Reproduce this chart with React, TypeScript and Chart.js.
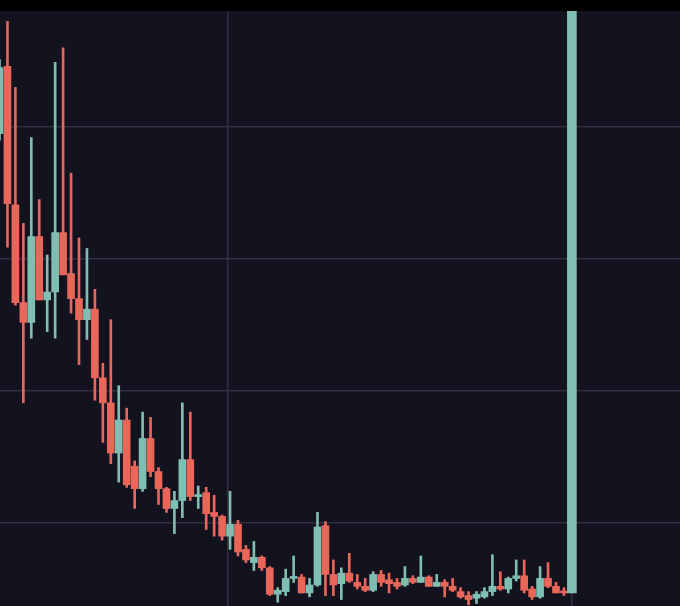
import { useEffect, useRef } from "react";
import { Chart, registerables } from "chart.js";

Chart.register(...registerables);

// OHLC values per candle
const opens = [
  3.95, 4.46, 3.41, 2.67, 2.52, 3.17, 2.69, 2.75, 3.2, 2.89,
  2.7, 2.54, 2.62, 2.1, 1.91, 1.53, 1.78, 1.43, 1.26, 1.64,
  1.39, 1.26, 1.11, 1.17, 1.48, 1.2, 1.23, 1.08, 1.05, 0.9,
  0.99, 0.8, 0.7, 0.74, 0.66, 0.46, 0.48, 0.58, 0.59, 0.47,
  0.53, 0.98, 0.61, 0.54, 0.62, 0.55, 0.52, 0.49, 0.61, 0.57,
  0.55, 0.53, 0.58, 0.55, 0.59, 0.52, 0.55, 0.52, 0.48, 0.45,
  0.43, 0.44, 0.48, 0.52, 0.5, 0.58, 0.6, 0.5, 0.44, 0.58,
  0.52, 0.48, 0.47,
];
const highs = [
  4.51, 4.8, 4.3, 3.27, 3.92, 3.45, 3.03, 4.49, 4.6, 3.65,
  3.16, 3.08, 2.77, 2.21, 2.54, 2.04, 1.87, 1.47, 1.84, 1.8,
  1.42, 1.27, 1.24, 1.91, 1.84, 1.28, 1.27, 1.21, 1.06, 1.24,
  1.02, 0.83, 0.86, 0.75, 0.67, 0.51, 0.65, 0.75, 0.61, 0.58,
  1.08, 1.01, 0.72, 0.66, 0.77, 0.61, 0.58, 0.63, 0.64, 0.62,
  0.58, 0.67, 0.6, 0.75, 0.6, 0.61, 0.57, 0.58, 0.51, 0.48,
  0.48, 0.51, 0.76, 0.63, 0.59, 0.72, 0.72, 0.52, 0.67, 0.7,
  0.55, 0.51, 5.6,
];
const lows = [
  3.9, 3.09, 2.65, 1.91, 2.4, 2.69, 2.45, 2.4, 2.88, 2.59,
  2.2, 2.39, 1.93, 1.61, 1.45, 1.31, 1.27, 1.11, 1.24, 1.35,
  1.14, 1.08, 0.92, 1.04, 1.17, 1.11, 0.95, 0.9, 0.87, 0.8,
  0.75, 0.7, 0.64, 0.64, 0.45, 0.4, 0.45, 0.55, 0.47, 0.44,
  0.52, 0.45, 0.45, 0.42, 0.55, 0.5, 0.48, 0.48, 0.52, 0.47,
  0.5, 0.52, 0.54, 0.55, 0.52, 0.52, 0.44, 0.48, 0.43, 0.38,
  0.39, 0.43, 0.45, 0.49, 0.47, 0.56, 0.47, 0.42, 0.43, 0.51,
  0.47, 0.45, 0.47,
];
const closes = [
  4.45, 3.42, 2.67, 2.52, 3.17, 2.69, 2.75, 3.2, 2.88, 2.7,
  2.54, 2.62, 2.1, 1.91, 1.53, 1.78, 1.29, 1.26, 1.64, 1.39,
  1.26, 1.11, 1.17, 1.48, 1.2, 1.21, 1.07, 1.05, 0.9, 0.99,
  0.78, 0.72, 0.74, 0.66, 0.46, 0.49, 0.58, 0.59, 0.47, 0.53,
  0.97, 0.61, 0.53, 0.62, 0.56, 0.52, 0.49, 0.61, 0.55, 0.54,
  0.52, 0.58, 0.55, 0.59, 0.52, 0.55, 0.52, 0.49, 0.44, 0.42,
  0.46, 0.48, 0.52, 0.5, 0.58, 0.6, 0.49, 0.44, 0.58, 0.52,
  0.47, 0.47, 5.6,
];

// Grid line positions
const yGridTicks = [1, 2, 3, 4];
const xGridTicks = [28.74, 72];

const UP = "#7fbfb2";
const DOWN = "#e8675a";
const GRID = "#2f2f40";
const BG = "#13121f";

export default function App() {
  const ref = useRef<HTMLCanvasElement>(null);

  useEffect(() => {
    const idx = opens.map((_, i) => i);
    const last = idx.length - 1;
    const colorOf = (i: number) => (closes[i] >= opens[i] ? UP : DOWN);
    const mainIdx = idx.slice(0, last);

    const chart = new Chart(ref.current!, {
      type: "bar",
      data: {
        datasets: [
          {
            label: "wick",
            data: idx.map((i) => ({ x: i, y: [lows[i], highs[i]] })) as any,
            backgroundColor: idx.map(colorOf),
            barThickness: 2,
            grouped: false,
            order: 3,
          } as any,
          {
            label: "body",
            data: mainIdx.map((i) => ({ x: i, y: [opens[i], closes[i]] })) as any,
            backgroundColor: mainIdx.map(colorOf),
            barThickness: 7,
            minBarLength: 2,
            grouped: false,
            order: 2,
          } as any,
          {
            label: "lastBody",
            data: [{ x: last, y: [opens[last], closes[last]] }] as any,
            backgroundColor: [colorOf(last)],
            barThickness: 9,
            grouped: false,
            order: 1,
          } as any,
        ],
      },
      options: {
        responsive: false,
        animation: false,
        layout: { padding: 0 },
        plugins: {
          legend: { display: false },
          tooltip: { enabled: false },
        },
        scales: {
          x: {
            type: "linear",
            min: 0.063,
            max: 85.6,
            offset: false,
            ticks: { display: false },
            grid: { color: GRID, drawTicks: false, offset: false, lineWidth: 1.5 },
            border: { display: false },
            afterBuildTicks: (axis: any) => {
              axis.ticks = xGridTicks.map((value) => ({ value }));
            },
          },
          y: {
            type: "linear",
            min: 0.371,
            max: 4.879,
            ticks: { display: false },
            grid: { color: GRID, drawTicks: false, lineWidth: 1.5 },
            border: { display: false },
            afterBuildTicks: (axis: any) => {
              axis.ticks = yGridTicks.map((value) => ({ value }));
            },
          },
        },
      } as any,
    });
    return () => chart.destroy();
  }, []);

  return (
    <div
      style={{
        position: "fixed",
        left: 0,
        top: 0,
        width: 680,
        height: 606,
        background: "#000",
        overflow: "hidden",
      }}
    >
      <div style={{ position: "absolute", left: 0, top: 11, width: 680, height: 595, background: BG }}>
        <canvas ref={ref} width={680} height={595} style={{ display: "block" }} />
      </div>
    </div>
  );
}
